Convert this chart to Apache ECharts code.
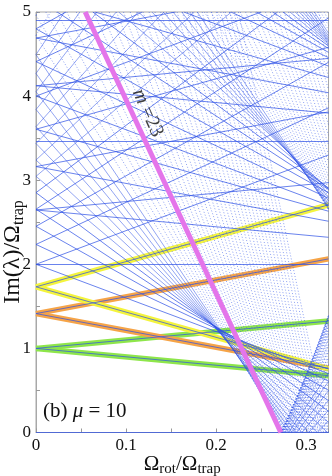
<!DOCTYPE html>
<html><head><meta charset="utf-8">
<script src="https://cdn.jsdelivr.net/npm/echarts@6/dist/echarts.min.js"></script>
<style>html,body{margin:0;padding:0;background:#fff}#c{width:332px;height:476px}</style>
</head><body><div id="c"></div>
<script>
// Axis ranges and tick labels
const X_MAX = 0.325, Y_MAX = 5;
const xTickLabels = ['0', '0.1', '0.2', '0.3'];
const yTickLabels = ['0', '1', '2', '3', '4', '5'];

// Mode frequencies Im(lambda)/Omega_trap at Omega_rot = 0, indexed by angular number m = 0,1,2,...
// radial branch n = 0 (surface modes)
const branch0 = [0, 1.000, 1.414, 1.732, 2.000, 2.236, 2.452, 2.655, 2.852, 3.046,
  3.240, 3.436, 3.636, 3.841, 4.052, 4.269, 4.493, 4.724, 4.962, 5.207,
  5.459, 5.718, 5.984, 6.257, 6.536, 6.822, 7.115, 7.415, 7.722, 8.036,
  8.357, 8.685, 9.020, 9.362, 9.711, 10.067, 10.430, 10.800, 11.177, 11.561,
  11.952, 12.350, 12.755, 13.167, 13.586, 14.012, 14.445, 14.885, 15.332, 15.786, 16.247];
// radial branch n = 1
const branch1 = [2.000, 2.646, 3.162, 3.606, 4.000, 4.410, 4.800, 5.165, 5.505, 5.827,
  6.139, 6.417, 6.696, 6.979, 7.268, 7.564, 7.868, 8.180, 8.500, 8.828,
  9.164, 9.508, 9.860, 10.220, 10.588, 10.964, 11.348, 11.740, 12.140, 12.548,
  12.964, 13.388, 13.820, 14.260, 14.708, 15.164, 15.628, 16.100, 16.580, 17.068, 17.564];
// radial branch n = 2
const branch2 = [3.464, 4.123, 4.690, 5.196, 5.657, 6.083, 6.470, 6.840, 7.195, 7.540,
  7.880, 8.218, 8.556, 8.896, 9.240, 9.590, 9.948, 10.315, 10.692, 11.080, 11.480];
// radial branch n = 3
const branch3 = [4.899, 5.568, 6.164];

// highlighted modes of branch n = 0
const greenM = 1, orangeM = 2, yellowM = 3, pinkM = 23;

const branches = [branch0, branch1, branch2, branch3];

function clip(p0, p1) {
  let t0 = 0, t1 = 1;
  const dx = p1[0] - p0[0], dy = p1[1] - p0[1];
  const p = [-dx, dx, -dy, dy];
  const q = [p0[0], X_MAX - p0[0], p0[1], Y_MAX - p0[1]];
  for (let i = 0; i < 4; i++) {
    if (p[i] === 0) { if (q[i] < 0) return null; }
    else {
      const r = q[i] / p[i];
      if (p[i] < 0) { if (r > t1) return null; if (r > t0) t0 = r; }
      else { if (r < t0) return null; if (r < t1) t1 = r; }
    }
  }
  if (t1 - t0 < 1e-9) return null;
  return [[p0[0] + t0 * dx, p0[1] + t0 * dy], [p0[0] + t1 * dx, p0[1] + t1 * dy]];
}
// segments of |w - s*m*Omega| over the axis range; s = +1 co-rotating (descending), -1 counter-rotating
function modeSegs(w, m, s) {
  const out = [];
  const push = (a, b) => { const c = clip(a, b); if (c) out.push({ coords: c }); };
  if (m === 0) { push([0, w], [X_MAX, w]); return out; }
  if (s < 0) { push([0, w], [X_MAX, w + m * X_MAX]); return out; }
  const z = w / m;
  if (z >= X_MAX) { push([0, w], [X_MAX, w - m * X_MAX]); }
  else { push([0, w], [z, 0]); push([z, 0], [X_MAX, m * (X_MAX - z)]); }
  return out;
}

const blueLow = [], blueMid = [], blueHigh = [];
branches.forEach(br => br.forEach((w, m) => {
  const target = m <= 8 ? blueLow : (m <= 16 ? blueMid : blueHigh);
  target.push(...modeSegs(w, m, 1));
  if (m > 0) target.push(...modeSegs(w, m, -1));
}));
const both = m => modeSegs(branch0[m], m, 1).concat(modeSegs(branch0[m], m, -1));
const green = both(greenM), orange = both(orangeM), yellow = both(yellowM);
const pink = modeSegs(branch0[pinkM], pinkM, 1).slice(0, 1);

const serif = "'Liberation Serif','DejaVu Serif',serif";
const ink = '#111';
const hl = (data, color, z) => ({ type: 'lines', coordinateSystem: 'cartesian2d', data, z, silent: true,
  lineStyle: { color, width: 5.5, opacity: 1 } });
const bl = (data, width, opacity, type) => ({ type: 'lines', coordinateSystem: 'cartesian2d', data, z: 4, silent: true,
  lineStyle: { color: '#2f52e6', width, opacity, type } });

const chart = echarts.init(document.getElementById('c'), null, { renderer: 'canvas' });
chart.setOption({
  animation: false,
  grid: { left: 36, right: 3.5, top: 12, bottom: 43.5, outerBoundsMode: 'none', containLabel: false,
    show: true, borderColor: '#a8a8a8', borderWidth: 1 },
  xAxis: {
    type: 'value', min: 0, max: X_MAX, interval: 0.1,
    axisLine: { lineStyle: { color: '#a8a8a8', width: 1 } },
    axisTick: { inside: true, length: 4, lineStyle: { color: '#999' } },
    minorTick: { show: true, splitNumber: 2, length: 4, lineStyle: { color: '#999' } },
    splitLine: { show: false },
    axisLabel: { fontFamily: serif, fontSize: 17, color: ink, margin: 5, showMaxLabel: false,
      formatter: v => xTickLabels[Math.round(v * 10)] },
    name: 'Ω{s|rot}/Ω{s|trap}', nameLocation: 'middle', nameGap: 19, nameMoveOverlap: false,
    nameTextStyle: { fontFamily: serif, fontSize: 21, color: ink, verticalAlign: 'top',
      rich: { s: { fontFamily: serif, fontSize: 15, color: ink, padding: [10, 0, 0, 0] } } }
  },
  yAxis: {
    type: 'value', min: 0, max: Y_MAX, interval: 1,
    axisLine: { lineStyle: { color: '#a8a8a8', width: 1 } },
    axisTick: { inside: true, length: 4, lineStyle: { color: '#999' } },
    minorTick: { show: true, splitNumber: 2, length: 4, lineStyle: { color: '#999' } },
    splitLine: { show: false },
    axisLabel: { fontFamily: serif, fontSize: 17, color: ink, margin: 5,
      formatter: v => yTickLabels[Math.round(v)] }
  },
  graphic: [
    { type: 'text', x: 13, y: 252, rotation: Math.PI / 2, z: 100,
      style: { text: 'Im(λ)/Ω{s|trap}', fontFamily: serif, fontSize: 24, fill: ink, align: 'center', verticalAlign: 'middle',
        rich: { s: { fontFamily: serif, fontSize: 16, fill: ink, padding: [12, 0, 0, 0] } } } },
    { type: 'text', x: 43, y: 411, z: 100,
      style: { text: '(b) {i|μ} = 10', fontFamily: serif, fontSize: 21, fill: ink, verticalAlign: 'middle',
        rich: { i: { fontFamily: serif, fontSize: 21, fontStyle: 'italic', fill: ink } } } }
  ],
  series: [
    hl(green, '#8ee64a', 3), hl(orange, '#f6a447', 3), hl(yellow, '#f4f43c', 3),
    bl(blueLow, 0.8, 0.9, 'solid'), bl(blueMid, 0.7, 0.75, 'solid'), bl(blueHigh, 0.8, 0.7, [1, 2]),
    { type: 'lines', coordinateSystem: 'cartesian2d', data: pink, z: 5, silent: true,
      lineStyle: { color: '#e475ea', width: 5, opacity: 1 } },
    { type: 'scatter', data: [[0.124, 3.8]], symbolSize: 0, z: 6, silent: true,
      label: { show: true, position: 'inside', rotate: -66, formatter: '{i|m} =23', fontFamily: serif, fontSize: 20, color: ink,
        rich: { i: { fontFamily: serif, fontSize: 20, fontStyle: 'italic', color: ink } } } }
  ]
});
</script></body></html>
